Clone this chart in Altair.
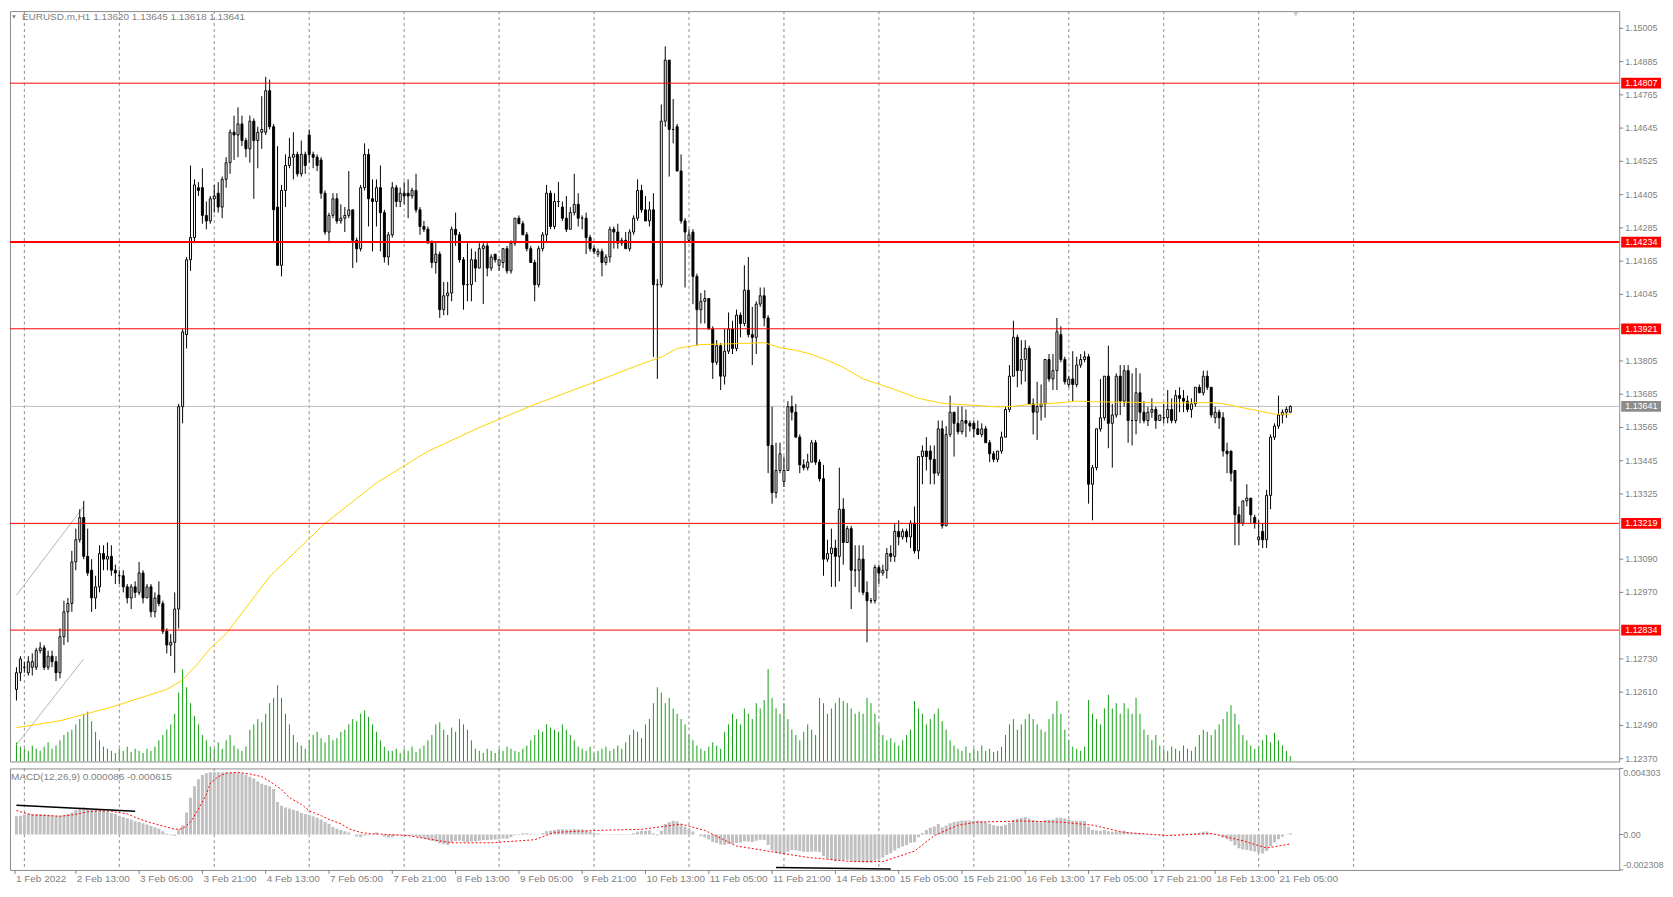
import altair as alt
import pandas as pd

# ---------------- data ----------------
opens = [
1.1250,1.1262,1.1268,1.1270,1.1268,1.1270,1.1270,1.1276,1.1277,1.1270,1.1274,1.1272,
1.1268,1.1281,1.1290,1.1293,1.1308,1.1316,1.1324,1.1310,1.1305,1.1295,1.1299,1.1311,
1.1309,1.1310,1.1305,1.1303,1.1303,1.1299,1.1295,1.1299,1.1297,1.1304,1.1295,1.1299,
1.1290,1.1296,1.1293,1.1283,1.1278,1.1279,1.1291,1.1364,1.1390,1.1417,1.1425,1.1443,
1.1443,1.1433,1.1431,1.1439,1.1441,1.1436,1.1446,1.1452,1.1463,1.1462,1.1466,1.1460,
1.1457,1.1467,1.1460,1.1463,1.1463,1.1478,1.1465,1.1436,1.1415,1.1442,1.1451,1.1454,
1.1455,1.1448,1.1455,1.1462,1.1455,1.1454,1.1453,1.1441,1.1427,1.1433,1.1439,1.1431,
1.1432,1.1433,1.1435,1.1424,1.1421,1.1443,1.1455,1.1439,1.1438,1.1443,1.1434,1.1418,
1.1426,1.1443,1.1438,1.1441,1.1441,1.1440,1.1442,1.1435,1.1429,1.1428,1.1423,1.1416,
1.1419,1.1399,1.1404,1.1405,1.1428,1.1426,1.1417,1.1408,1.1408,1.1417,1.1414,1.1421,
1.1422,1.1414,1.1419,1.1415,1.1416,1.1421,1.1413,1.1423,1.1432,1.1430,1.1426,1.1421,
1.1416,1.1408,1.1421,1.1426,1.1441,1.1429,1.1438,1.1436,1.1432,1.1428,1.1434,1.1437,
1.1432,1.1432,1.1425,1.1421,1.1419,1.1420,1.1416,1.1418,1.1428,1.1427,1.1423,1.1424,
1.1421,1.1427,1.1432,1.1442,1.1435,1.1431,1.1435,1.1408,1.1408,1.1467,1.1489,1.1464,
1.1465,1.1449,1.1431,1.1424,1.1427,1.1411,1.1399,1.1402,1.1403,1.1392,1.1380,1.1386,
1.1375,1.1384,1.1392,1.1385,1.1397,1.1394,1.1406,1.1390,1.1389,1.1401,1.1404,1.1396,
1.1350,1.1333,1.1341,1.1337,1.1341,1.1364,1.1362,1.1353,1.1343,1.1342,1.1344,1.1351,
1.1344,1.1338,1.1309,1.1311,1.1313,1.1310,1.1327,1.1315,1.1320,1.1305,1.1305,1.1309,
1.1297,1.1294,1.1294,1.1306,1.1304,1.1305,1.1311,1.1310,1.1319,1.1317,1.1319,1.1317,
1.1322,1.1312,1.1346,1.1348,1.1348,1.1345,1.1340,1.1356,1.1321,1.1354,1.1362,1.1358,
1.1355,1.1359,1.1358,1.1358,1.1356,1.1354,1.1356,1.1351,1.1347,1.1345,1.1348,1.1353,
1.1363,1.1375,1.1389,1.1377,1.1381,1.1385,1.1365,1.1362,1.1364,1.1365,1.1381,1.1374,
1.1377,1.1390,1.1381,1.1372,1.1374,1.1372,1.1379,1.1381,1.1382,1.1336,1.1342,1.1356,
1.1360,1.1375,1.1358,1.1361,1.1375,1.1366,1.1377,1.1359,1.1359,1.1369,1.1362,1.1359,
1.1362,1.1363,1.1359,1.1360,1.1360,1.1363,1.1359,1.1368,1.1367,1.1366,1.1363,1.1365,
1.1371,1.1369,1.1375,1.1371,1.1360,1.1362,1.1360,1.1348,1.1348,1.1341,1.1325,1.1322,
1.1330,1.1331,1.1324,1.1316,1.1319,1.1316,1.1332,1.1353,1.1357,1.1361,1.1362,1.13620]

highs = [
1.1265,1.1270,1.1274,1.1272,1.1274,1.1275,1.1277,1.1279,1.1278,1.1276,1.1276,1.1274,
1.1284,1.1294,1.1295,1.1312,1.1320,1.1327,1.1330,1.1320,1.1309,1.1303,1.1314,1.1314,
1.1315,1.1314,1.1307,1.1305,1.1305,1.1300,1.1300,1.1301,1.1308,1.1305,1.1300,1.1300,
1.1297,1.1301,1.1294,1.1284,1.1282,1.1297,1.1365,1.1392,1.1418,1.1451,1.1446,1.1445,
1.1450,1.1438,1.1440,1.1444,1.1445,1.1447,1.1454,1.1464,1.1469,1.1472,1.1469,1.1461,
1.1469,1.1468,1.1465,1.1476,1.1483,1.1482,1.1466,1.1458,1.1444,1.1455,1.1461,1.1463,
1.1456,1.1460,1.1456,1.1464,1.1456,1.1455,1.1454,1.1442,1.1434,1.1441,1.1441,1.1437,
1.1436,1.1449,1.1435,1.1425,1.1444,1.1459,1.1457,1.1446,1.1446,1.1451,1.1435,1.1427,
1.1445,1.1444,1.1443,1.1445,1.1446,1.1443,1.1448,1.1436,1.1431,1.1429,1.1424,1.1423,
1.1420,1.1409,1.1409,1.1429,1.1434,1.1427,1.1418,1.1423,1.1421,1.1420,1.1423,1.1423,
1.1423,1.1419,1.1419,1.1417,1.1421,1.1422,1.1424,1.1432,1.1433,1.1431,1.1427,1.1422,
1.1417,1.1422,1.1427,1.1444,1.1442,1.1441,1.1445,1.1438,1.1440,1.1436,1.1448,1.1441,
1.1433,1.1434,1.1426,1.1422,1.1421,1.1421,1.1419,1.1429,1.1429,1.1430,1.1425,1.1427,
1.1428,1.1433,1.1446,1.1444,1.1440,1.1438,1.1441,1.1410,1.1473,1.1494,1.1489,1.1475,
1.1466,1.1455,1.1432,1.1428,1.1428,1.1412,1.1405,1.1406,1.1403,1.1393,1.1388,1.1387,
1.1392,1.1398,1.1395,1.1399,1.1398,1.1415,1.1418,1.1400,1.1402,1.1407,1.1407,1.1397,
1.1364,1.1351,1.1351,1.1346,1.1366,1.1368,1.1365,1.1354,1.1345,1.1347,1.1352,1.1352,
1.1345,1.1343,1.1316,1.1320,1.1316,1.1342,1.1331,1.1321,1.1321,1.1314,1.1314,1.1314,
1.1301,1.1295,1.1307,1.1307,1.1307,1.1313,1.1314,1.1322,1.1323,1.1320,1.1320,1.1323,
1.1328,1.1346,1.1350,1.1353,1.1350,1.1350,1.1359,1.1359,1.1357,1.1368,1.1362,1.1364,
1.1364,1.1363,1.1359,1.1359,1.1359,1.1358,1.1357,1.1352,1.1348,1.1348,1.1355,1.1364,
1.1379,1.1395,1.1390,1.1388,1.1388,1.1386,1.1367,1.1373,1.1372,1.1381,1.1383,1.1383,
1.1396,1.1393,1.1382,1.1375,1.1384,1.1382,1.1383,1.1384,1.1383,1.1343,1.1356,1.1374,
1.1375,1.1386,1.1365,1.1376,1.1379,1.1379,1.1379,1.1376,1.1378,1.1376,1.1366,1.1364,
1.1367,1.1364,1.1361,1.1365,1.1370,1.1367,1.1370,1.1371,1.1370,1.1368,1.1367,1.1371,
1.1372,1.1377,1.1377,1.1371,1.1364,1.1363,1.1362,1.1351,1.1348,1.1341,1.1328,1.1330,
1.1336,1.1331,1.1325,1.1323,1.1322,1.1334,1.1354,1.1358,1.1368,1.1363,1.1364,1.13645]

lows = [
1.1245,1.1258,1.1265,1.1268,1.1267,1.1267,1.1269,1.1275,1.1269,1.1269,1.1270,1.1265,
1.1266,1.1278,1.1279,1.1290,1.1305,1.1315,1.1309,1.1303,1.1290,1.1291,1.1297,1.1305,
1.1305,1.1303,1.1300,1.1300,1.1297,1.1293,1.1291,1.1295,1.1296,1.1293,1.1295,1.1288,
1.1288,1.1292,1.1282,1.1275,1.1274,1.1268,1.1284,1.1358,1.1385,1.1413,1.1423,1.1440,
1.1430,1.1428,1.1430,1.1434,1.1434,1.1432,1.1443,1.1448,1.1453,1.1454,1.1458,1.1454,
1.1452,1.1439,1.1450,1.1457,1.1462,1.1464,1.1423,1.1415,1.1411,1.1436,1.1450,1.1446,
1.1447,1.1447,1.1448,1.1452,1.1450,1.1449,1.1439,1.1426,1.1423,1.1432,1.1430,1.1430,
1.1427,1.1432,1.1414,1.1416,1.1420,1.1442,1.1429,1.1420,1.1429,1.1420,1.1416,1.1415,
1.1425,1.1436,1.1436,1.1437,1.1432,1.1439,1.1434,1.1426,1.1427,1.1423,1.1414,1.1412,
1.1396,1.1397,1.1397,1.1402,1.1422,1.1416,1.1399,1.1402,1.1402,1.1409,1.1414,1.1401,
1.1411,1.1413,1.1416,1.1413,1.1414,1.1412,1.1412,1.1422,1.1430,1.1426,1.1420,1.1416,
1.1402,1.1407,1.1420,1.1423,1.1428,1.1428,1.1436,1.1431,1.1427,1.1428,1.1433,1.1429,
1.1428,1.1419,1.1420,1.1419,1.1418,1.1411,1.1415,1.1416,1.1421,1.1421,1.1422,1.1421,
1.1420,1.1426,1.1431,1.1434,1.1431,1.1429,1.1382,1.1374,1.1407,1.1465,1.1447,1.1459,
1.1449,1.1430,1.1407,1.1423,1.1401,1.1386,1.1394,1.1394,1.1392,1.1374,1.1379,1.1370,
1.1372,1.1383,1.1383,1.1384,1.1389,1.1393,1.1389,1.1379,1.1383,1.1400,1.1393,1.1340,
1.1329,1.1331,1.1340,1.1335,1.1341,1.1359,1.1353,1.1340,1.1341,1.1341,1.1344,1.1343,
1.1337,1.1303,1.1308,1.1299,1.1299,1.1301,1.1307,1.1315,1.1291,1.1299,1.1297,1.1296,
1.1279,1.1293,1.1293,1.1300,1.1303,1.1302,1.1308,1.1308,1.1314,1.1316,1.1315,1.1313,
1.1311,1.1309,1.1336,1.1341,1.1336,1.1336,1.1339,1.1320,1.1321,1.1353,1.1346,1.1354,
1.1354,1.1353,1.1355,1.1353,1.1354,1.1353,1.1351,1.1344,1.1344,1.1344,1.1347,1.1353,
1.1362,1.1375,1.1371,1.1372,1.1373,1.1365,1.1354,1.1352,1.1359,1.1360,1.1373,1.1370,
1.1370,1.1380,1.1372,1.1371,1.1366,1.1371,1.1378,1.1380,1.1329,1.1323,1.1341,1.1355,
1.1359,1.1349,1.1342,1.1360,1.1361,1.1364,1.1351,1.1350,1.1354,1.1358,1.1358,1.1357,
1.1360,1.1356,1.1359,1.1358,1.1358,1.1358,1.1358,1.1362,1.1362,1.1362,1.1360,1.1364,
1.1369,1.1368,1.1370,1.1360,1.1358,1.1356,1.1346,1.1340,1.1337,1.1314,1.1314,1.1321,
1.1328,1.1322,1.1320,1.1314,1.1313,1.1313,1.1327,1.1352,1.1356,1.1358,1.1360,1.13618]

closes = [
1.1262,1.1268,1.1273,1.1270,1.1272,1.1272,1.1276,1.1277,1.1270,1.1274,1.1272,1.1268,
1.1281,1.1290,1.1293,1.1308,1.1316,1.1324,1.1310,1.1304,1.1295,1.1299,1.1311,1.1309,
1.1310,1.1305,1.1304,1.1303,1.1299,1.1295,1.1299,1.1297,1.1304,1.1295,1.1299,1.1290,
1.1295,1.1293,1.1283,1.1278,1.1279,1.1291,1.1364,1.1391,1.1417,1.1425,1.1444,1.1442,
1.1433,1.1431,1.1439,1.1440,1.1436,1.1446,1.1452,1.1463,1.1462,1.1466,1.1460,1.1457,
1.1467,1.1460,1.1463,1.1464,1.1478,1.1465,1.1435,1.1415,1.1442,1.1451,1.1454,1.1455,
1.1448,1.1455,1.1451,1.1455,1.1454,1.1451,1.1441,1.1427,1.1433,1.1439,1.1431,1.1432,
1.1433,1.1435,1.1424,1.1421,1.1443,1.1455,1.1439,1.1438,1.1443,1.1434,1.1418,1.1426,
1.1443,1.1438,1.1441,1.1440,1.1440,1.1442,1.1435,1.1429,1.1428,1.1423,1.1416,1.1419,
1.1399,1.1404,1.1405,1.1428,1.1426,1.1417,1.1408,1.1408,1.1417,1.1414,1.1421,1.1422,
1.1414,1.1418,1.1417,1.1417,1.1421,1.1413,1.1423,1.1432,1.1430,1.1426,1.1421,1.1416,
1.1408,1.1421,1.1426,1.1441,1.1429,1.1438,1.1438,1.1432,1.1428,1.1434,1.1437,1.1432,
1.1432,1.1425,1.1421,1.1420,1.1420,1.1416,1.1418,1.1428,1.1427,1.1423,1.1424,1.1421,
1.1427,1.1432,1.1442,1.1435,1.1431,1.1435,1.1408,1.1408,1.1467,1.1489,1.1464,1.1464,
1.1449,1.1431,1.1427,1.1426,1.1411,1.1399,1.1402,1.1403,1.1392,1.1380,1.1386,1.1375,
1.1384,1.1392,1.1385,1.1397,1.1394,1.1406,1.1390,1.1389,1.1401,1.1404,1.1396,1.1350,
1.1333,1.1341,1.1347,1.1341,1.1364,1.1362,1.1353,1.1343,1.1342,1.1344,1.1351,1.1344,
1.1338,1.1309,1.1311,1.1313,1.1310,1.1327,1.1315,1.1320,1.1305,1.1305,1.1309,1.1297,
1.1294,1.1294,1.1306,1.1304,1.1305,1.1311,1.1310,1.1319,1.1317,1.1319,1.1317,1.1322,
1.1312,1.1346,1.1348,1.1346,1.1345,1.1340,1.1356,1.1321,1.1354,1.1362,1.1358,1.1355,
1.1359,1.1358,1.1357,1.1356,1.1354,1.1356,1.1351,1.1347,1.1345,1.1348,1.1353,1.1363,
1.1375,1.1389,1.1377,1.1381,1.1385,1.1365,1.1362,1.1364,1.1365,1.1381,1.1374,1.1377,
1.1391,1.1381,1.1373,1.1374,1.1372,1.1379,1.1381,1.1382,1.1336,1.1342,1.1356,1.1360,
1.1375,1.1358,1.1361,1.1375,1.1366,1.1377,1.1359,1.1359,1.1369,1.1362,1.1359,1.1362,
1.1363,1.1359,1.1361,1.1360,1.1363,1.1359,1.1368,1.1367,1.1366,1.1363,1.1365,1.1371,
1.1369,1.1375,1.1371,1.1361,1.1362,1.1360,1.1348,1.1347,1.1340,1.1325,1.1322,1.1330,
1.1331,1.1325,1.1322,1.1317,1.1316,1.1332,1.1353,1.1357,1.1361,1.1362,1.1363,1.13641]

volumes = [
25,18,14,12,10,15,12,10,14,18,12,15,
20,25,28,30,35,40,45,47,38,28,20,14,
12,10,8,12,10,14,9,12,10,8,12,10,
14,20,25,30,35,45,65,87,70,55,43,35,
25,20,14,12,18,12,20,25,15,12,10,14,
30,35,40,37,45,55,60,72,60,45,35,25,
18,15,12,20,25,28,22,18,25,20,22,28,
30,35,40,38,45,48,42,35,28,20,14,10,
10,12,8,12,10,14,9,12,15,20,25,35,
37,30,25,32,28,40,35,30,20,12,10,8,
12,10,8,12,10,14,12,10,9,12,15,20,
25,30,28,35,32,30,28,35,30,25,20,14,
12,10,14,8,10,12,14,10,12,15,12,18,
25,30,28,22,35,40,55,70,65,55,60,50,
45,40,35,25,20,15,12,10,14,18,15,12,
28,35,45,40,35,50,45,40,55,50,58,87,
60,50,45,55,40,30,25,20,28,35,30,25,
60,55,45,50,55,60,57,55,50,45,47,45,
60,55,45,35,25,20,22,18,15,20,25,30,
57,50,45,35,40,45,50,38,30,20,15,12,
10,14,8,12,10,15,10,12,9,10,14,25,
35,40,30,35,40,45,40,35,30,28,40,45,
57,45,30,20,14,12,10,14,58,45,40,35,
50,63,50,55,45,55,50,45,60,45,30,25,
20,25,15,12,10,14,12,10,15,12,10,14,
25,30,28,25,30,35,40,47,53,45,35,25,
20,15,12,14,20,25,18,27,20,15,10,5]

macd_main = [
0.00112,0.00119,0.00123,0.00131,0.00134,0.00134,0.00134,0.00134,0.00131,0.00129,0.00127,0.00123,
0.00123,0.00127,0.00134,0.00144,0.00159,0.00174,0.00178,0.00174,0.00165,0.00165,0.00159,0.00155,
0.00148,0.00140,0.00134,0.00123,0.00114,0.00106,0.00098,0.00087,0.00081,0.00074,0.00066,0.00055,
0.00047,0.00038,0.00021,0.00006,-0.00004,-0.00008,0.00034,0.00059,0.00144,0.00240,0.00314,0.00360,
0.00388,0.00399,0.00405,0.00405,0.00405,0.00405,0.00405,0.00405,0.00405,0.00403,0.00399,0.00390,
0.00377,0.00365,0.00346,0.00331,0.00322,0.00314,0.00297,0.00212,0.00187,0.00176,0.00170,0.00161,
0.00153,0.00140,0.00134,0.00127,0.00119,0.00110,0.00098,0.00081,0.00068,0.00051,0.00038,0.00030,
0.00021,0.00013,0.00000,-0.00013,-0.00017,-0.00008,-0.00004,0.00004,0.00013,0.00000,-0.00013,-0.00019,
-0.00017,-0.00008,-0.00004,-0.00005,-0.00008,-0.00008,-0.00012,-0.00020,-0.00026,-0.00032,-0.00040,-0.00045,
-0.00058,-0.00064,-0.00068,-0.00052,-0.00042,-0.00040,-0.00045,-0.00048,-0.00045,-0.00045,-0.00040,-0.00036,
-0.00036,-0.00034,-0.00032,-0.00031,-0.00026,-0.00027,-0.00018,-0.00005,0.00004,0.00008,0.00008,0.00005,
-0.00003,0.00002,0.00008,0.00022,0.00024,0.00030,0.00034,0.00034,0.00032,0.00033,0.00036,0.00035,
0.00033,0.00026,0.00018,0.00012,0.00007,0.00001,-0.00002,0.00002,0.00004,0.00003,0.00003,0.00002,
0.00004,0.00009,0.00020,0.00024,0.00025,0.00028,0.00008,-0.00006,0.00025,0.00068,0.00080,0.00090,
0.00086,0.00068,0.00050,0.00038,0.00020,0.00000,-0.00012,-0.00020,-0.00032,-0.00048,-0.00055,-0.00065,
-0.00066,-0.00060,-0.00060,-0.00055,-0.00052,-0.00044,-0.00046,-0.00048,-0.00040,-0.00034,-0.00035,-0.00068,
-0.00102,-0.00118,-0.00124,-0.00130,-0.00112,-0.00102,-0.00102,-0.00108,-0.00112,-0.00114,-0.00110,-0.00110,
-0.00114,-0.00140,-0.00156,-0.00166,-0.00174,-0.00168,-0.00168,-0.00164,-0.00172,-0.00176,-0.00176,-0.00182,
-0.00184,-0.00182,-0.00170,-0.00160,-0.00150,-0.00134,-0.00122,-0.00104,-0.00090,-0.00078,-0.00068,-0.00054,
-0.00050,-0.00018,0.00010,0.00030,0.00044,0.00052,0.00068,0.00048,0.00058,0.00074,0.00082,0.00086,
0.00090,0.00092,0.00092,0.00092,0.00090,0.00088,0.00080,0.00070,0.00060,0.00055,0.00056,0.00064,
0.00076,0.00096,0.00102,0.00108,0.00114,0.00104,0.00094,0.00088,0.00084,0.00094,0.00096,0.00098,
0.00110,0.00110,0.00104,0.00098,0.00090,0.00090,0.00090,0.00088,0.00050,0.00030,0.00026,0.00024,
0.00030,0.00022,0.00018,0.00022,0.00020,0.00024,0.00014,0.00008,0.00010,0.00008,0.00004,0.00002,
0.00002,-0.00002,-0.00003,-0.00004,-0.00002,-0.00004,0.00002,0.00004,0.00006,0.00005,0.00006,0.00010,
0.00012,0.00018,0.00020,0.00010,0.00002,-0.00004,-0.00020,-0.00030,-0.00044,-0.00070,-0.00090,-0.00098,
-0.00100,-0.00106,-0.00110,-0.00120,-0.00124,-0.00108,-0.00078,-0.00052,-0.00030,-0.00014,-0.00002,0.000086]

# moving average (yellow) read at sample bars
ma_k = [1,12,25,39,43,47,50,54,65,79,92,105,119,132,145,159,164,168,174,182,190,194,198,202,206,
        210,215,223,229,235,243,249,253,257,263,269,273,277,285,294,302,306,310,315,319,323]
ma_v = [1.12482,1.12507,1.12556,1.12620,1.12654,1.12716,1.12768,1.12821,1.13027,1.13219,1.13365,
        1.13479,1.13571,1.13648,1.13717,1.13794,1.13819,1.13850,1.13864,1.13867,1.13871,1.13853,
        1.13843,1.13829,1.13807,1.13782,1.13740,1.13702,1.13670,1.13652,1.13645,1.13639,1.13641,
        1.13648,1.13652,1.13660,1.13658,1.13657,1.13655,1.13653,1.13655,1.13651,1.13639,1.13625,
        1.13613,1.13613]

# MACD signal (red dotted) read at sample bars
sig_k = [1,2,5,9,12,15,19,22,25,29,32,35,39,41,43,45,47,49,50,52,54,57,60,63,65,68,70,73,75,78,
         80,83,85,88,90,95,100,111,121,132,137,148,159,169,175,183,191,201,212,220,228,233,239,
         244,255,265,273,281,292,303,311,317,323]
sig_v = [0.00157,0.00148,0.00127,0.00123,0.00119,0.00127,0.00148,0.00155,0.00151,0.00134,
         0.00102,0.00076,0.00049,0.00034,0.00038,0.00081,0.00165,0.00261,0.00335,0.00377,
         0.00399,0.00405,0.00394,0.00377,0.00346,0.00293,0.00240,0.00197,0.00155,0.00123,
         0.00098,0.00070,0.00038,0.00013,0.00006,0.0,-0.00007,-0.00054,-0.00054,-0.00034,
         0.00014,0.00027,0.00034,0.00068,0.00027,-0.00075,-0.00108,-0.00149,-0.00176,-0.00176,
         -0.00108,-0.00007,0.00061,0.00081,0.00088,0.00081,0.00061,0.00014,-0.00007,0.00007,
         -0.00041,-0.00088,-0.000615]

thin_levels = [1.14807, 1.13921, 1.13219, 1.12834]
thick_levels = [1.14234]
current_price = [1.13641]

# drawn trend lines (bar index, value)
chan_line = ["a", "a", "b", "b"]
chan_k = [1, 18, 1, 18]
chan_p = [1.1296, 1.1328, 1.1242, 1.1273]
macd_tl_line = ["a", "a", "b", "b"]
macd_tl_k = [1, 31, 193, 222]
macd_tl_v = [0.00190, 0.00151, -0.00215, -0.00225]

# visible price-scale labels (those hidden under the level boxes are left out)
price_ticks = [1.15005, 1.14885, 1.14765, 1.14645, 1.14525, 1.14405, 1.14285, 1.14165, 1.14045,
               1.13805, 1.13685, 1.13565, 1.13445, 1.13325, 1.13090, 1.12970,
               1.12730, 1.12610, 1.12490, 1.12370]
macd_top = [0.004303]
macd_mid = [0.0]
macd_bottom = [-0.002308]
x_labels = ["1 Feb 2022", "2 Feb 13:00", "3 Feb 05:00", "3 Feb 21:00", "4 Feb 13:00",
            "7 Feb 05:00", "7 Feb 21:00", "8 Feb 13:00", "9 Feb 05:00", "9 Feb 21:00",
            "10 Feb 13:00", "11 Feb 05:00", "11 Feb 21:00", "14 Feb 13:00", "15 Feb 05:00",
            "15 Feb 21:00", "16 Feb 13:00", "17 Feb 05:00", "17 Feb 21:00", "18 Feb 13:00",
            "21 Feb 05:00"]
x_tick_idx = list(range(0, 321, 16))
day_start_idx = list(range(3, 340, 24))

title_text = "EURUSD.m,H1  1.13620 1.13645 1.13618 1.13641"
macd_text = "MACD(12,26,9) 0.000086 -0.000615"

n = len(closes)
assert len(opens) == len(highs) == len(lows) == n == len(volumes) == len(macd_main), (
    len(opens), len(highs), len(lows), n, len(volumes), len(macd_main))
assert len(ma_k) == len(ma_v) and len(sig_k) == len(sig_v)

df = pd.DataFrame({"i": list(range(n)), "o": opens, "h": highs, "l": lows, "c": closes,
                   "v": volumes, "m": macd_main})
df["top"] = df[["o", "c"]].max(axis=1)
df["bot"] = df[["o", "c"]].min(axis=1)
df["dir"] = ["up" if c >= o else "down" for o, c in zip(opens, closes)]

# ---------------- layout ----------------
FONT = "Liberation Sans"
GREY = "#808080"
W = 1617
H_MAIN = 754
H_MACD = 102
SPACING = 3
X_DOM = [0.625, 0.625 + W / 4.0]
P_DOM = [1.12360, 1.15067]
M_DOM = [-0.002308, 0.004303]
VISIBLE = "datum.i >= 1"   # bar 0 sits left of the plot frame

xs = alt.Scale(domain=X_DOM, nice=False, zero=False)
ps = alt.Scale(domain=P_DOM, nice=False, zero=False)
ms = alt.Scale(domain=M_DOM, nice=False, zero=False)
X_NONE = dict(scale=xs, axis=None)


def py(field):
    return alt.Y(field, scale=ps, axis=None)


def my(field):
    return alt.Y(field, scale=ms, axis=None)


bars = alt.Chart(df).transform_filter(VISIBLE)

grid_df = pd.DataFrame({"g": day_start_idx})
grid_main = alt.Chart(grid_df).mark_rule(
    color="#8c8c8c", strokeDash=[3, 3], strokeWidth=1).encode(x=alt.X("g:Q", **X_NONE))

cur_line = alt.Chart(pd.DataFrame({"p": current_price})).mark_rule(
    color="#c0c0c0", strokeWidth=1).encode(y=py("p:Q"))

chan = alt.Chart(pd.DataFrame({"line": chan_line, "k": chan_k, "p": chan_p})).mark_line(
    color="#b4b4b4", strokeWidth=1, clip=True).encode(
    x=alt.X("k:Q", **X_NONE), y=py("p:Q"), detail="line:N")

wicks = bars.mark_rule(color="black", strokeWidth=1, clip=True).encode(
    x=alt.X("i:Q", **X_NONE), y=py("l:Q"), y2="h:Q")

bodies = bars.mark_bar(size=2, stroke="black", strokeWidth=1, clip=True).encode(
    x=alt.X("i:Q", **X_NONE), y=py("bot:Q"), y2="top:Q",
    fill=alt.Fill("dir:N", scale=alt.Scale(domain=["up", "down"], range=["white", "black"]),
                  legend=None))

ma_line = alt.Chart(pd.DataFrame({"k": ma_k, "v": ma_v})).mark_line(
    color="#ffd200", strokeWidth=1, clip=True).encode(x=alt.X("k:Q", **X_NONE), y=py("v:Q"))

lv_thin = alt.Chart(pd.DataFrame({"p": thin_levels})).mark_rule(
    color="#ff0000", strokeWidth=1).encode(y=py("p:Q"))
lv_thick = alt.Chart(pd.DataFrame({"p": thick_levels})).mark_rule(
    color="#ff0000", strokeWidth=2).encode(y=py("p:Q"))

# right price scale drawn as marks
ptick_df = pd.DataFrame({"p": price_ticks, "t": [f"{p:.5f}" for p in price_ticks]})
ptick = alt.Chart(ptick_df).mark_rule(color=GREY, strokeWidth=1).encode(
    y=py("p:Q"), x=alt.value(W), x2=alt.value(W + 4))
plabel = alt.Chart(ptick_df).mark_text(align="left", baseline="middle", color=GREY,
                                       font=FONT, fontSize=9).encode(
    x=alt.value(W + 6), y=py("p:Q"), text="t:N")

lab_p = thin_levels + thick_levels + current_price
lab_df = pd.DataFrame({"p": lab_p, "t": [f"{p:.5f}" for p in lab_p],
                       "kind": ["level"] * (len(thin_levels) + len(thick_levels)) + ["current"]})
BOX = "M-1,-0.27L1,-0.27L1,0.27L-1,0.27Z"
lab_box = alt.Chart(lab_df).mark_point(shape=BOX, size=1600, filled=True, opacity=1,
                                       strokeWidth=0).encode(
    x=alt.value(W + 22), y=py("p:Q"),
    color=alt.Color("kind:N", scale=alt.Scale(domain=["level", "current"],
                                              range=["#ff0000", "#8c8c8c"]), legend=None))
lab_txt = alt.Chart(lab_df).mark_text(align="left", baseline="middle", color="white",
                                      font=FONT, fontSize=9).encode(
    x=alt.value(W + 6), y=py("p:Q"), text="t:N")

head = pd.DataFrame({"t": [title_text]})
head_tri = alt.Chart(head).mark_point(shape="triangle-down", filled=True, color=GREY,
                                      size=16, opacity=1).encode(x=alt.value(4), y=alt.value(6))
head_txt = alt.Chart(head).mark_text(align="left", baseline="middle", color=GREY,
                                     font=FONT, fontSize=10).encode(
    x=alt.value(12), y=alt.value(6), text="t:N")
shift_mark = alt.Chart(head).mark_point(shape="triangle-down", filled=True, color="#c8c8c8",
                                        size=30, opacity=1).encode(
    x=alt.value(1292), y=alt.value(3))

price_group = alt.layer(grid_main, cur_line, chan, wicks, bodies, ma_line, lv_thin, lv_thick,
                        ptick, plabel, lab_box, lab_txt, head_tri, head_txt, shift_mark)

vol = bars.mark_rule(color="#13a013", strokeWidth=1, clip=True).encode(
    x=alt.X("i:Q", **X_NONE),
    y=alt.Y("v:Q", scale=alt.Scale(domain=[0, 707.6], nice=False), axis=None),
    y2=alt.datum(0))

main = alt.layer(vol, price_group).resolve_scale(y="independent").properties(
    width=W, height=H_MAIN)

# ---------------- MACD panel ----------------
grid_macd = alt.Chart(grid_df).mark_rule(
    color="#8c8c8c", strokeDash=[3, 3], strokeWidth=1).encode(x=alt.X("g:Q", **X_NONE))

hist = bars.mark_bar(size=3, color="#c0c0c0", clip=True).encode(
    x=alt.X("i:Q", **X_NONE), y=my("m:Q"), y2=alt.datum(0))

signal = alt.Chart(pd.DataFrame({"k": sig_k, "v": sig_v})).mark_line(
    color="#ff0000", strokeDash=[2, 2], strokeWidth=1, clip=True).encode(
    x=alt.X("k:Q", **X_NONE), y=my("v:Q"))

macd_tl = alt.Chart(pd.DataFrame({"line": macd_tl_line, "k": macd_tl_k, "v": macd_tl_v})).mark_line(
    color="black", strokeWidth=1.5, clip=True).encode(
    x=alt.X("k:Q", **X_NONE), y=my("v:Q"), detail="line:N")

macd_lbl = alt.Chart(pd.DataFrame({"t": [macd_text]})).mark_text(
    align="left", baseline="middle", color=GREY, font=FONT, fontSize=10).encode(
    x=alt.value(1), y=alt.value(9), text="t:N")

mvals = macd_top + macd_mid + macd_bottom
mtick = alt.Chart(pd.DataFrame({"v": mvals})).mark_rule(color=GREY, strokeWidth=1).encode(
    y=my("v:Q"), x=alt.value(W), x2=alt.value(W + 4))


def mlabel(vals, text, baseline, dy):
    return alt.Chart(pd.DataFrame({"v": vals, "t": [text]})).mark_text(
        align="left", baseline=baseline, dy=dy, color=GREY, font=FONT, fontSize=9).encode(
        x=alt.value(W + 4), y=my("v:Q"), text="t:N")


ml_top = mlabel(macd_top, f"{macd_top[0]:.6f}", "top", 1)
ml_mid = mlabel(macd_mid, "0.00", "middle", 0)
ml_bot = mlabel(macd_bottom, f"{macd_bottom[0]:.6f}", "bottom", 0)

xl_df = pd.DataFrame({"k": x_tick_idx, "t": x_labels})
xtick = alt.Chart(xl_df).transform_calculate(kx="max(datum.k, 0.625)").mark_rule(
    color=GREY, strokeWidth=1).encode(
    x=alt.X("kx:Q", **X_NONE), y=alt.value(H_MACD), y2=alt.value(H_MACD + 4))
xlabel = alt.Chart(xl_df).transform_calculate(kx="max(datum.k, 0.625)").mark_text(
    align="left", baseline="top", dx=1, color=GREY, font=FONT, fontSize=10).encode(
    x=alt.X("kx:Q", **X_NONE), y=alt.value(H_MACD + 4), text="t:N")

macd = alt.layer(grid_macd, hist, signal, macd_tl, macd_lbl, mtick, ml_top, ml_mid, ml_bot,
                 xtick, xlabel).properties(width=W, height=H_MACD)

chart = alt.vconcat(main, macd, spacing=SPACING).properties(
    padding={"left": 0, "top": 0, "right": 0, "bottom": 0}, background="white"
).configure_view(stroke="#8a8a8a", strokeWidth=1)

chart.save("out.html", embed_options={"renderer": "svg", "actions": False})
